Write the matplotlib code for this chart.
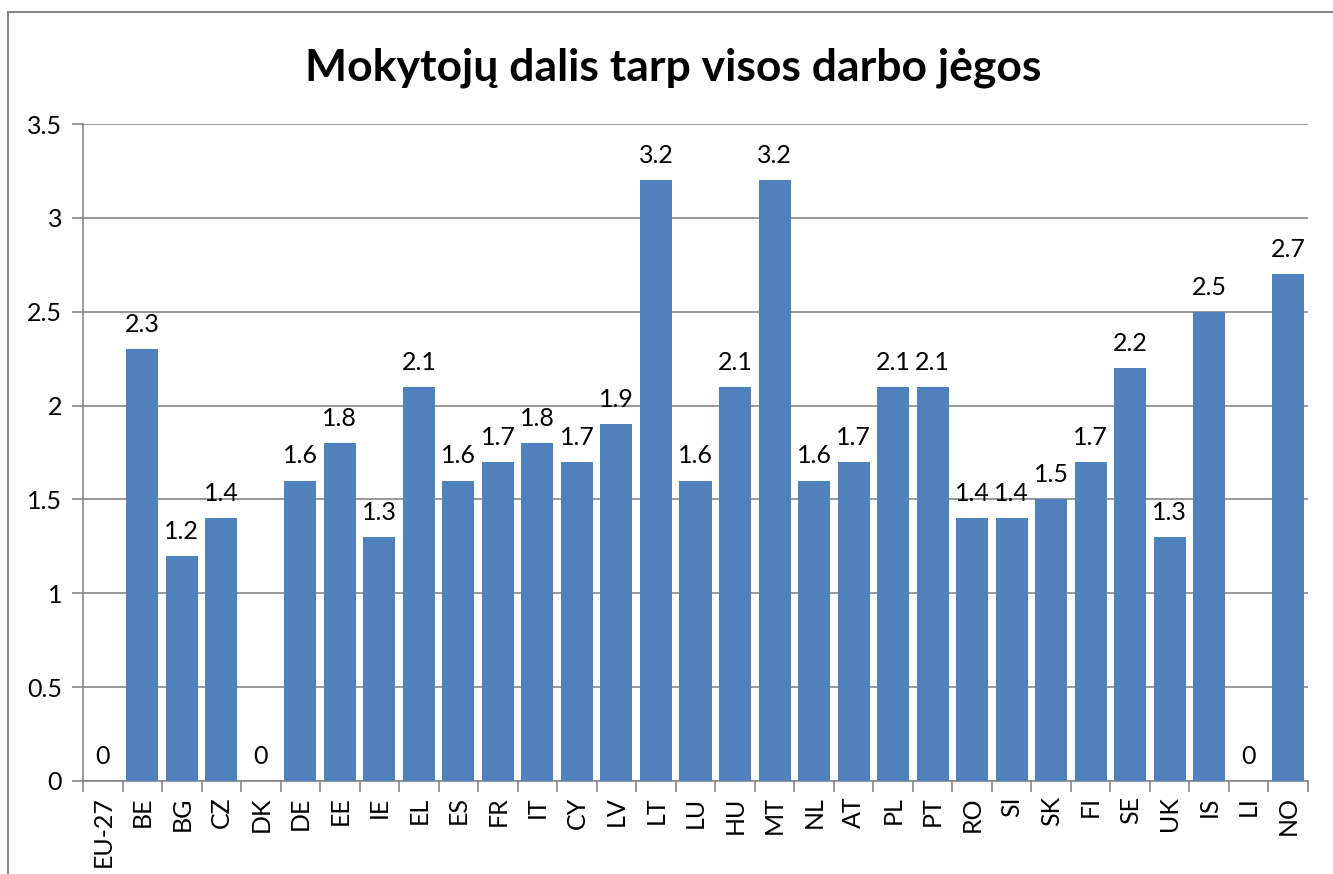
import matplotlib.pyplot as plt
from matplotlib.lines import Line2D

countries = ['EU-27', 'BE', 'BG', 'CZ', 'DK', 'DE', 'EE', 'IE', 'EL', 'ES', 'FR',
             'IT', 'CY', 'LV', 'LT', 'LU', 'HU', 'MT', 'NL', 'AT', 'PL', 'PT',
             'RO', 'SI', 'SK', 'FI', 'SE', 'UK', 'IS', 'LI', 'NO']
shares = [0, 2.3, 1.2, 1.4, 0, 1.6, 1.8, 1.3, 2.1, 1.6, 1.7,
          1.8, 1.7, 1.9, 3.2, 1.6, 2.1, 3.2, 1.6, 1.7, 2.1, 2.1,
          1.4, 1.4, 1.5, 1.7, 2.2, 1.3, 2.5, 0, 2.7]
yticks = [0, 0.5, 1, 1.5, 2, 2.5, 3, 3.5]

W, H = 1333, 874
plt.rcParams['font.family'] = ['Lato', 'DejaVu Sans']

fig = plt.figure(figsize=(W / 100, H / 100), dpi=100)
ax = fig.add_axes([83 / W, 1 - 781 / H, (1308 - 83) / W, (781 - 124) / H])

grey = '#868686'
x = range(len(countries))
ax.bar(x, shares, width=0.81, color='#4F81BD', zorder=3)

for i, v in enumerate(shares):
    ax.annotate(f'{v:g}', (i, v), xytext=(0, 9.5), textcoords='offset points',
                ha='center', va='bottom', fontsize=18)

ax.set_xlim(-0.5, len(countries) - 0.5)
ax.set_ylim(0, 3.5)
ax.set_yticks(yticks)
ax.set_yticklabels([f'{t:g}' for t in yticks], fontsize=18)
ax.yaxis.grid(True, color=grey, linewidth=1.2, zorder=0)

ax.set_xticks(list(x))
ax.set_xticklabels(countries, rotation=90, fontsize=18)
ax.set_xticks([i - 0.5 for i in range(len(countries) + 1)], minor=True)
ax.tick_params(axis='x', which='major', length=0, pad=11)
ax.tick_params(axis='x', which='minor', length=8, color=grey, width=1.2)
ax.tick_params(axis='y', length=8, color=grey, width=1.2, pad=7)

for side in ['top', 'right']:
    ax.spines[side].set_visible(False)
for side in ['left', 'bottom']:
    ax.spines[side].set_color(grey)
    ax.spines[side].set_linewidth(1.2)

fig.text(673 / W, 1 - 68 / H, 'Mokytojų dalis tarp visos darbo jėgos',
         ha='center', va='center', fontsize=32, fontweight='bold')

# chart frame (cut off at right and bottom)
fig.add_artist(Line2D([8 / W, 8 / W], [1 - 12 / H, 0], color=grey, linewidth=1.5))
fig.add_artist(Line2D([8 / W, 1], [1 - 12 / H, 1 - 12 / H], color=grey, linewidth=1.5))

fig.savefig('out.png', dpi=100)
